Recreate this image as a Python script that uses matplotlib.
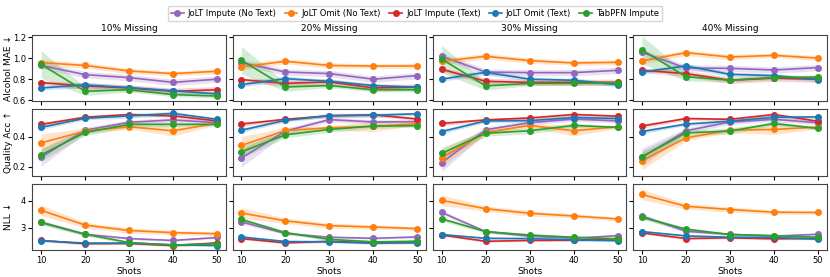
import matplotlib
matplotlib.use("Agg")
import matplotlib.pyplot as plt
import numpy as np

shots = [10, 20, 30, 40, 50]
missing = ["10% Missing", "20% Missing", "30% Missing", "40% Missing"]
methods = ["JoLT Impute (No Text)", "JoLT Omit (No Text)", "JoLT Impute (Text)",
           "JoLT Omit (Text)", "TabPFN Impute"]
colors = ["tab:purple", "tab:orange", "tab:red", "tab:blue", "tab:green"]
metrics = ["Alcohol MAE ↓", "Quality Acc ↑", "NLL ↓"]

# mean values: [metric][missing][method] -> 5 shots
mae = [
    [[0.93, 0.843, 0.815, 0.77, 0.80],
     [0.957, 0.93, 0.878, 0.853, 0.875],
     [0.767, 0.736, 0.717, 0.685, 0.70],
     [0.717, 0.745, 0.72, 0.69, 0.66],
     [0.94, 0.685, 0.70, 0.654, 0.64]],
    [[0.957, 0.868, 0.853, 0.80, 0.834],
     [0.916, 0.97, 0.93, 0.925, 0.925],
     [0.796, 0.76, 0.774, 0.717, 0.726],
     [0.748, 0.805, 0.78, 0.74, 0.723],
     [0.98, 0.726, 0.74, 0.70, 0.70]],
    [[1.017, 0.868, 0.862, 0.862, 0.884],
     [0.97, 1.017, 0.976, 0.954, 0.96],
     [0.894, 0.78, 0.77, 0.77, 0.77],
     [0.80, 0.865, 0.80, 0.79, 0.748],
     [0.99, 0.736, 0.76, 0.76, 0.767]],
    [[1.055, 0.906, 0.903, 0.887, 0.91],
     [0.973, 1.052, 1.01, 1.026, 1.0],
     [0.884, 0.853, 0.79, 0.81, 0.80],
     [0.868, 0.925, 0.846, 0.834, 0.796],
     [1.077, 0.824, 0.79, 0.815, 0.82]],
]
acc = [
    [[0.264, 0.445, 0.498, 0.514, 0.495],
     [0.36, 0.439, 0.468, 0.441, 0.491],
     [0.484, 0.532, 0.55, 0.541, 0.507],
     [0.464, 0.525, 0.541, 0.557, 0.518],
     [0.28, 0.43, 0.484, 0.484, 0.484]],
    [[0.259, 0.439, 0.516, 0.50, 0.502],
     [0.343, 0.443, 0.461, 0.47, 0.489],
     [0.486, 0.518, 0.541, 0.548, 0.52],
     [0.445, 0.511, 0.543, 0.545, 0.555],
     [0.30, 0.414, 0.45, 0.473, 0.475]],
    [[0.227, 0.448, 0.495, 0.52, 0.507],
     [0.261, 0.43, 0.477, 0.441, 0.468],
     [0.49, 0.514, 0.527, 0.55, 0.539],
     [0.436, 0.507, 0.509, 0.53, 0.523],
     [0.29, 0.425, 0.441, 0.477, 0.464]],
    [[0.264, 0.441, 0.50, 0.518, 0.495],
     [0.241, 0.393, 0.445, 0.45, 0.466],
     [0.473, 0.523, 0.518, 0.55, 0.505],
     [0.436, 0.486, 0.505, 0.532, 0.534],
     [0.268, 0.427, 0.439, 0.49, 0.457]],
]
nll = [
    [[3.19, 2.75, 2.59, 2.52, 2.63],
     [3.64, 3.09, 2.89, 2.81, 2.77],
     [2.52, 2.40, 2.41, 2.33, 2.43],
     [2.51, 2.42, 2.42, 2.36, 2.33],
     [3.19, 2.75, 2.44, 2.35, 2.40]],
    [[3.21, 2.78, 2.64, 2.60, 2.65],
     [3.54, 3.25, 3.07, 3.02, 2.96],
     [2.59, 2.43, 2.49, 2.43, 2.48],
     [2.65, 2.48, 2.47, 2.42, 2.43],
     [3.30, 2.81, 2.56, 2.47, 2.49]],
    [[3.56, 2.85, 2.68, 2.60, 2.70],
     [4.01, 3.70, 3.53, 3.43, 3.32],
     [2.72, 2.49, 2.52, 2.53, 2.59],
     [2.74, 2.60, 2.59, 2.54, 2.51],
     [3.32, 2.85, 2.72, 2.64, 2.58]],
    [[3.43, 2.86, 2.75, 2.68, 2.75],
     [4.23, 3.79, 3.67, 3.57, 3.56],
     [2.80, 2.59, 2.62, 2.58, 2.60],
     [2.85, 2.69, 2.64, 2.63, 2.57],
     [3.38, 2.94, 2.74, 2.70, 2.64]],
]

# band half-widths: [metric][method] -> 5 shots
mae_err = [[0.03, 0.03, 0.03, 0.03, 0.03],
           [0.03, 0.025, 0.025, 0.02, 0.025],
           [0.02, 0.03, 0.03, 0.03, 0.03],
           [0.02, 0.025, 0.02, 0.02, 0.02],
           [0.13, 0.04, 0.02, 0.02, 0.02]]
acc_err = [[0.06, 0.02, 0.015, 0.015, 0.015],
           [0.06, 0.02, 0.015, 0.035, 0.01],
           [0.015, 0.01, 0.01, 0.01, 0.01],
           [0.015, 0.01, 0.015, 0.015, 0.01],
           [0.04, 0.02, 0.02, 0.015, 0.01]]
nll_err = [[0.08, 0.05, 0.04, 0.04, 0.04],
           [0.2, 0.1, 0.1, 0.08, 0.07],
           [0.04, 0.04, 0.04, 0.04, 0.04],
           [0.04, 0.04, 0.04, 0.04, 0.04],
           [0.08, 0.06, 0.05, 0.04, 0.04]]

data = [mae, acc, nll]
errs = [mae_err, acc_err, nll_err]
ylims = [(0.59, 1.22), (0.14, 0.585), (2.16, 4.63)]
yticks = [[0.6, 0.8, 1.0, 1.2], [0.2, 0.4], [3, 4]]

fig, axes = plt.subplots(3, 4, figsize=(8.3, 2.77), dpi=100, sharex=True, sharey='row')
fig.subplots_adjust(left=0.039, right=0.996, top=0.874, bottom=0.097,
                    wspace=0.035, hspace=0.12)

handles = []
for r in range(3):
    for c in range(4):
        ax = axes[r, c]
        for m in range(5):
            y = np.array(data[r][c][m])
            e = np.array(errs[r][m])
            ax.fill_between(shots, y - e, y + e, color=colors[m], alpha=0.2, lw=0)
            h, = ax.plot(shots, y, color=colors[m], marker='o', ms=4, lw=1.2,
                         label=methods[m])
            if r == 0 and c == 0:
                handles.append(h)
        ax.set_ylim(*ylims[r])
        ax.set_yticks(yticks[r])
        ax.set_xticks(shots)
        ax.tick_params(labelsize=6, length=3, pad=1.5)
        for s in ax.spines.values():
            s.set_color('#444444')
        if r == 0:
            ax.set_title(missing[c], fontsize=6.5, pad=3)
        if r == 2:
            ax.set_xlabel("Shots", fontsize=6.5, labelpad=1.5)
        if c == 0:
            ax.set_ylabel(metrics[r], fontsize=6.5)
            ax.yaxis.set_label_coords(-0.1, 0.5)

fig.legend(handles=handles, loc='upper center', bbox_to_anchor=(0.5, 0.995),
           ncol=5, fontsize=6, frameon=True, handlelength=1.5,
           columnspacing=1.0, borderpad=0.4, handletextpad=0.5)

fig.savefig("out.png", dpi=100)
